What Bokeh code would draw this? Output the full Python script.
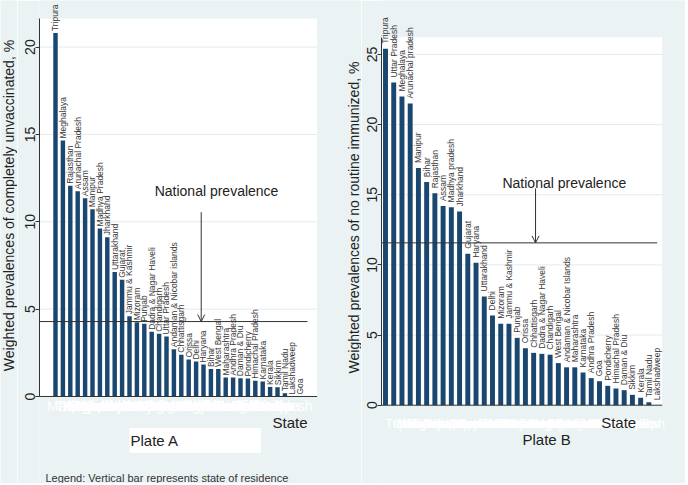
import math
from bokeh.plotting import figure
from bokeh.models import (ColumnDataSource, LabelSet, Label, Arrow, OpenHead,
                          FixedTicker, Range1d, BoxAnnotation)
from bokeh.core.properties import value
from bokeh.layouts import row
from bokeh.embed import file_html
from bokeh.resources import INLINE

# ---------------- data ----------------
states_a = ["Tripura", "Meghalaya", "Rajasthan", "Arunachal Pradesh", "Assam", "Manipur",
            "Madhya Pradesh", "Jharkhand", "Uttarakhand", "Gujarat", "Jammu & Kashmir",
            "Mizoram", "Punjab", "Dadra & Nagar Haveli", "Chandigarh", "Uttar Pradesh",
            "Andaman & Nicobar islands", "Chhattisgarh", "Orissa", "Delhi", "Haryana",
            "Bihar", "West Bengal", "Maharashtra", "Andhra Pradesh", "Daman & Diu",
            "Pondicherry", "Himachal Pradesh", "Karnataka", "Kerala", "Sikkim",
            "Tamil Nadu", "Lakshadweep", "Goa"]
vals_a = [20.8, 14.65, 12.06, 11.75, 11.35, 10.72, 9.62, 9.12, 7.12, 6.68, 4.6,
          4.25, 4.16, 3.7, 3.59, 3.43, 2.71, 2.39, 2.12, 2.0, 1.83, 1.58, 1.58,
          1.09, 1.09, 1.05, 1.03, 0.9, 0.86, 0.55, 0.53, 0.19, 0.0, 0.0]
national_a = 4.29

states_b = ["Tripura", "Uttar Pradesh", "Meghalaya", "Arunachal pradesh", "Manipur", "Bihar",
            "Rajasthan", "Assam", "Madhya pradesh", "Jharkhand", "Gujarat", "Haryana",
            "Uttarakhand", "Delhi", "Mizoram", "Jammu & Kashmir", "Punjab", "Orissa",
            "Chhattisgarh", "Dadra & Nagar Haveli", "Chandigarh", "West Bengal",
            "Andaman & Nicobar Islands", "Maharashtra", "Karnataka", "Andhra Pradesh",
            "Goa", "Pondicherry", "Himachal Pradesh", "Daman & Diu", "Sikkim", "Kerala",
            "Tamil Nadu", "Lakshadweep"]
vals_b = [25.4, 23.0, 22.0, 21.5, 16.9, 15.9, 15.1, 14.2, 14.1, 13.8, 10.8, 10.15,
          7.75, 6.4, 5.8, 5.8, 4.8, 4.06, 3.73, 3.66, 3.6, 3.0, 2.7, 2.7, 2.33, 1.93,
          1.71, 1.38, 1.19, 1.07, 0.74, 0.53, 0.21, 0.0]
national_b = 11.57

yticks_a = [0, 5, 10, 15, 20]
yticks_b = [0, 5, 10, 15, 20, 25]

ylabel_a = "Weighted prevalences of completely unvaccinated, %"
ylabel_b = "Weighted prevalences of no routine immunized, %"
xlabel = "State"
note = "Legend: Vertical bar represents state of residence"

BG = "#eaf2f3"
BAR = "#1a476f"
TXT = "#222222"
AX = "#333333"
FONT = "Liberation Sans"
H = 483


def base_fig(w, bl, xr, yr, **kw):
    p = figure(width=w, height=H, x_range=Range1d(*xr), y_range=Range1d(*yr),
               output_backend="svg", toolbar_location=None,
               min_border_left=bl, min_border_right=0, min_border_top=0,
               min_border_bottom=0, **kw)
    p.background_fill_color = BG
    p.border_fill_color = BG
    p.outline_line_color = None
    p.grid.visible = False
    return p


def ytitle(p, text, sx, sy):
    p.add_layout(Label(x=sx, y=sy, x_units="screen", y_units="screen", text=text,
                       angle=math.pi / 2, text_align="center", text_baseline="middle",
                       text_font=FONT, text_font_size="14px", text_color=TXT))


def panel(states, vals, national, yticks, g):
    n = len(states)
    xs = list(range(1, n + 1))
    # horizontal alignment of the (white) tick names: keep the end ones inside
    align = ["left" if i < 4 else ("right" if i >= n - 4 else "center") for i in range(n)]
    src = ColumnDataSource(dict(x=xs, top=vals, name=states, zero=[0] * n, al=align))
    x0, x1 = g["xr"]
    pr = g["pright"]          # right edge of the white plot region (data)
    ptop = g["ptop"]          # top of the white plot region (data)
    p = base_fig(g["w"], g["bl"], g["xr"], g["yr"], x_axis_location=None)

    # white plot region
    p.add_layout(BoxAnnotation(left=x0, right=pr, bottom=0, top=ptop,
                               fill_color="white", fill_alpha=1, line_color=None,
                               level="image"))
    # faint horizontal grid lines at the y ticks
    gt = [t for t in yticks if t > 0]
    p.segment(x0=[x0] * len(gt), y0=gt, x1=[pr] * len(gt), y1=gt,
              line_color="#e2ebee", line_width=1)

    p.vbar(x="x", top="top", bottom=0, width=0.6, source=src,
           fill_color=BAR, line_color=None)

    # baseline (x axis line)
    p.segment(x0=[x0 - 0.5], y0=[0], x1=[pr], y1=[0], line_color=AX, line_width=1)

    # y axis
    ya = p.yaxis[0]
    ya.ticker = FixedTicker(ticks=yticks)
    ya.bounds = (0, ptop)
    ya.major_label_orientation = "vertical"
    ya.major_label_text_font = FONT
    ya.major_label_text_font_size = "14px"
    ya.major_label_text_color = TXT
    ya.major_label_standoff = 0
    ya.major_tick_out = 4
    ya.major_tick_in = 0
    ya.minor_tick_line_color = None
    ya.axis_line_color = AX
    ya.major_tick_line_color = AX

    # white, overlapping state names under the axis (as in the original)
    p.add_layout(LabelSet(x="x", y="zero", text="name", source=src,
                          text_align="al", text_baseline="top",
                          y_offset=g["xstand"],
                          text_font=value(FONT), text_font_size=value(g["xfs"]),
                          text_color="white"))

    # bar labels
    p.add_layout(LabelSet(x="x", y="top", text="name", source=src, angle=math.pi / 2,
                          text_align="left", text_baseline="middle", y_offset=g["loff"],
                          text_font=value(FONT), text_font_size=value("8.5px"),
                          text_color="#3a3a3a"))

    # national prevalence
    p.segment(x0=[x0], y0=[national], x1=[g["lend"]], y1=[national],
              line_color=AX, line_width=1)
    p.add_layout(Arrow(end=OpenHead(size=7, line_width=1, line_color=AX),
                       x_start=g["ax"], y_start=g["ay"], x_end=g["ax"], y_end=national,
                       line_color=AX, line_width=1))
    p.add_layout(Label(x=g["tx"], y=g["ty"], text="National prevalence",
                       text_align="center", text_baseline="middle",
                       text_font=FONT, text_font_size="14px", text_color=TXT))

    # x axis title
    p.add_layout(Label(x=g["sx"], y=61, y_units="screen", text=xlabel,
                       text_align="right", text_baseline="middle", text_font=FONT,
                       text_font_size="15px", text_color=TXT))
    return p


ga = dict(w=344, bl=22, xr=(-1.162, 42.35), yr=(-4.980, 22.667),
          pright=36.36, ptop=21.64, xstand=-2, xfs="14px", loff=2, lend=35.05,
          ax=20.69, ay=10.55, tx=22.76, ty=11.79, sx=35.05)
gb = dict(w=324, bl=20, xr=(0.514, 37.45), yr=(-5.581, 28.845),
          pright=34.62, ptop=26.23, xstand=-12, xfs="12px", loff=5, lend=34.01,
          ax=19.23, ay=15.45, tx=22.73, ty=15.87, sx=31.46)

# narrow strip holding the first y-axis title
pt = base_fig(17, 0, (0, 1), (0, 1), x_axis_location=None, y_axis_location=None)
ytitle(pt, ylabel_a, 8.5, H - 205)

pa = panel(states_a, vals_a, national_a, yticks_a, ga)
pb = panel(states_b, vals_b, national_b, yticks_b, gb)

# second y-axis title sits in the gap between the panels (right part of pa)
ytitle(pa, ylabel_b, 314, H - 217)

pa.add_layout(Label(x=90, y=43, x_units="screen", y_units="screen", text="Plate A",
                    text_align="left", text_baseline="middle", text_font=FONT,
                    text_font_size="15px", text_color=TXT,
                    background_fill_color="white",
                    padding=dict(left=1, right=82, top=4, bottom=4)))
pa.add_layout(Label(x=6, y=6, x_units="screen", y_units="screen", text=note,
                    text_align="left", text_baseline="middle", text_font=FONT,
                    text_font_size="11px", text_color=AX))
pb.add_layout(Label(x=141, y=44, x_units="screen", y_units="screen", text="Plate B",
                    text_align="left", text_baseline="middle", text_font=FONT,
                    text_font_size="15px", text_color=TXT))

layout = row(pt, pa, pb, spacing=0)
open("out.html", "w").write(file_html(layout, INLINE))
